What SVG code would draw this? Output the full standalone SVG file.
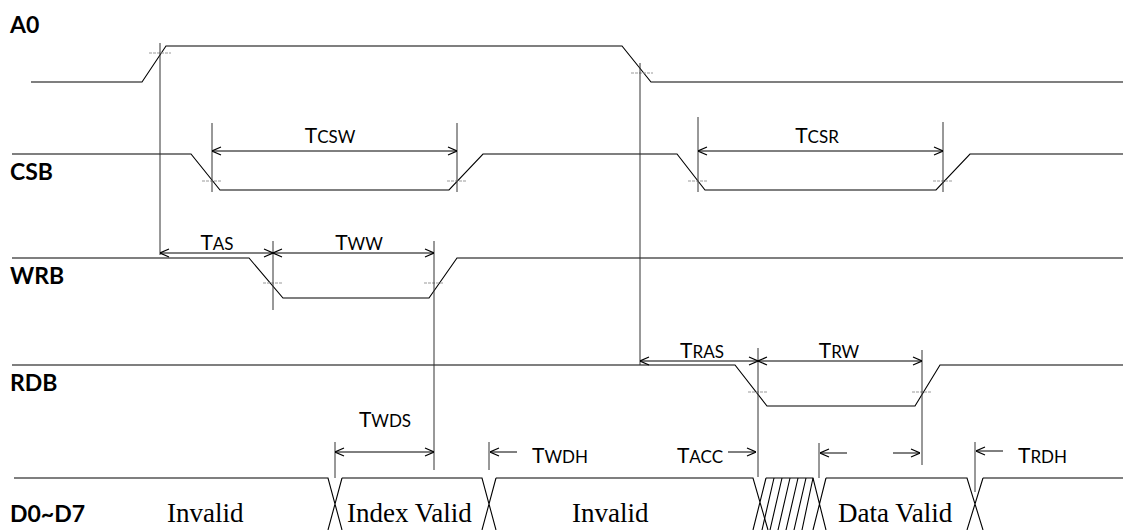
<svg xmlns="http://www.w3.org/2000/svg" width="1133" height="530" viewBox="0 0 1133 530">
<defs>
<marker id="ah" viewBox="0 0 10 10" refX="10" refY="5" markerWidth="10" markerHeight="10" markerUnits="userSpaceOnUse" orient="auto-start-reverse">
<path d="M1,1 L10,5 L1,9" fill="none" stroke="#000" stroke-width="1.2"/>
</marker>
<style>
.w{fill:none;stroke:#000;stroke-width:1.1}
.m{fill:none;stroke:#333;stroke-width:1}
.c{fill:none;stroke:#999;stroke-width:1;stroke-dasharray:3 1}
.a{fill:none;stroke:#000;stroke-width:1}
.sig{font-family:Lato,"DejaVu Sans",sans-serif;font-weight:bold;font-size:23px;fill:#000}
.t{font-family:Lato,"DejaVu Sans",sans-serif;font-size:21px;fill:#000}
.s{font-size:17px}
.d{font-family:"Liberation Serif","Times New Roman",serif;font-size:27px;fill:#000}
</style>
</defs>
<rect width="1133" height="530" fill="#fff"/>

<g id="labels">
<text class="sig" x="10" y="33">A0</text>
<text class="sig" x="10" y="180">CSB</text>
<text class="sig" x="10" y="284">WRB</text>
<text class="sig" x="10" y="391">RDB</text>
<text class="sig" x="10" y="522">D0~D7</text>
</g>

<g id="waveforms">
<path id="A0" class="w" d="M31,82 H142 L166,46 H622 L651,82 H1123"/>
<path id="CSB" class="w" d="M12,154 H191 L220,190 H449 L483,154 H677 L705,190 H936 L970,154 H1123"/>
<path id="WRB" class="w" d="M12,258 H249 L283,298 H429 L457,258 H1123"/>
<path id="RDB" class="w" d="M12,365 H735 L767,406 H915 L940,365 H1123"/>
<g id="D0D7" class="w">
<path d="M14,478 H328 L342,530 M342,478 L328,530"/>
<path d="M342,478 H482 L496,530 M496,478 L482,530"/>
<path d="M496,478 H753 L768,530 M766,478 L753,530"/>
<path d="M766,478 H813 L826,530 M826,478 L813,530"/>
<path d="M826,478 H967 L983,530 M983,478 L967,530"/>
<path d="M983,478 H1123"/>
<path d="M774,478 L762,530 M782,478 L770,530 M790,478 L778,530 M798,478 L786,530 M806,478 L794,530 M813,478 L802,530"/>
</g>
</g>

<g id="crosshairs">
<path class="c" d="M149,53 H171 M631,73 H653 M202,181 H222 M447,181 H467 M688,181 H708 M933,181 H953 M263,283 H283 M424,283 H444 M748,392 H768 M912,392 H932"/>
</g>

<g id="connectors">
<path class="m" d="M160,43 V255 M640,63 V365 M212,123 V192 M457,123 V192 M698,117 V192 M943,122 V192 M273,241 V310 M434,241 V470 M758,348 V477 M922,350 V465 M335,442 V478 M489,442 V470 M819,443 V478 M975,442 V492"/>
<g class="a" marker-start="url(#ah)" marker-end="url(#ah)">
<line x1="212" y1="151" x2="457" y2="151"/>
<line x1="698" y1="151" x2="943" y2="151"/>
<line x1="160" y1="253" x2="273" y2="253"/>
<line x1="273" y1="253" x2="434" y2="253"/>
<line x1="640" y1="361" x2="758" y2="361"/>
<line x1="758" y1="361" x2="922" y2="361"/>
<line x1="335" y1="452" x2="434" y2="452"/>
</g>
<g class="a" marker-end="url(#ah)">
<line x1="517" y1="452" x2="490" y2="452"/>
<line x1="728" y1="452" x2="756" y2="452"/>
<line x1="847" y1="453" x2="820" y2="453"/>
<line x1="893" y1="453" x2="920" y2="453"/>
<line x1="1003" y1="451" x2="976" y2="451"/>
</g>
</g>

<g id="timing-labels">
<text class="t" x="330" y="143" text-anchor="middle">T<tspan class="s">CSW</tspan></text>
<text class="t" x="817" y="143" text-anchor="middle">T<tspan class="s">CSR</tspan></text>
<text class="t" x="217" y="250" text-anchor="middle">T<tspan class="s">AS</tspan></text>
<text class="t" x="359" y="250" text-anchor="middle">T<tspan class="s">WW</tspan></text>
<text class="t" x="702" y="358" text-anchor="middle">T<tspan class="s">RAS</tspan></text>
<text class="t" x="839" y="358" text-anchor="middle">T<tspan class="s">RW</tspan></text>
<text class="t" x="385" y="427" text-anchor="middle">T<tspan class="s">WDS</tspan></text>
<text class="t" x="532" y="463">T<tspan class="s">WDH</tspan></text>
<text class="t" x="723" y="463" text-anchor="end">T<tspan class="s">ACC</tspan></text>
<text class="t" x="1018" y="463">T<tspan class="s">RDH</tspan></text>
</g>

<g id="data-labels">
<text class="d" x="167" y="522">Invalid</text>
<text class="d" x="347" y="522">Index Valid</text>
<text class="d" x="572" y="522">Invalid</text>
<text class="d" x="838" y="522">Data Valid</text>
</g>
</svg>
